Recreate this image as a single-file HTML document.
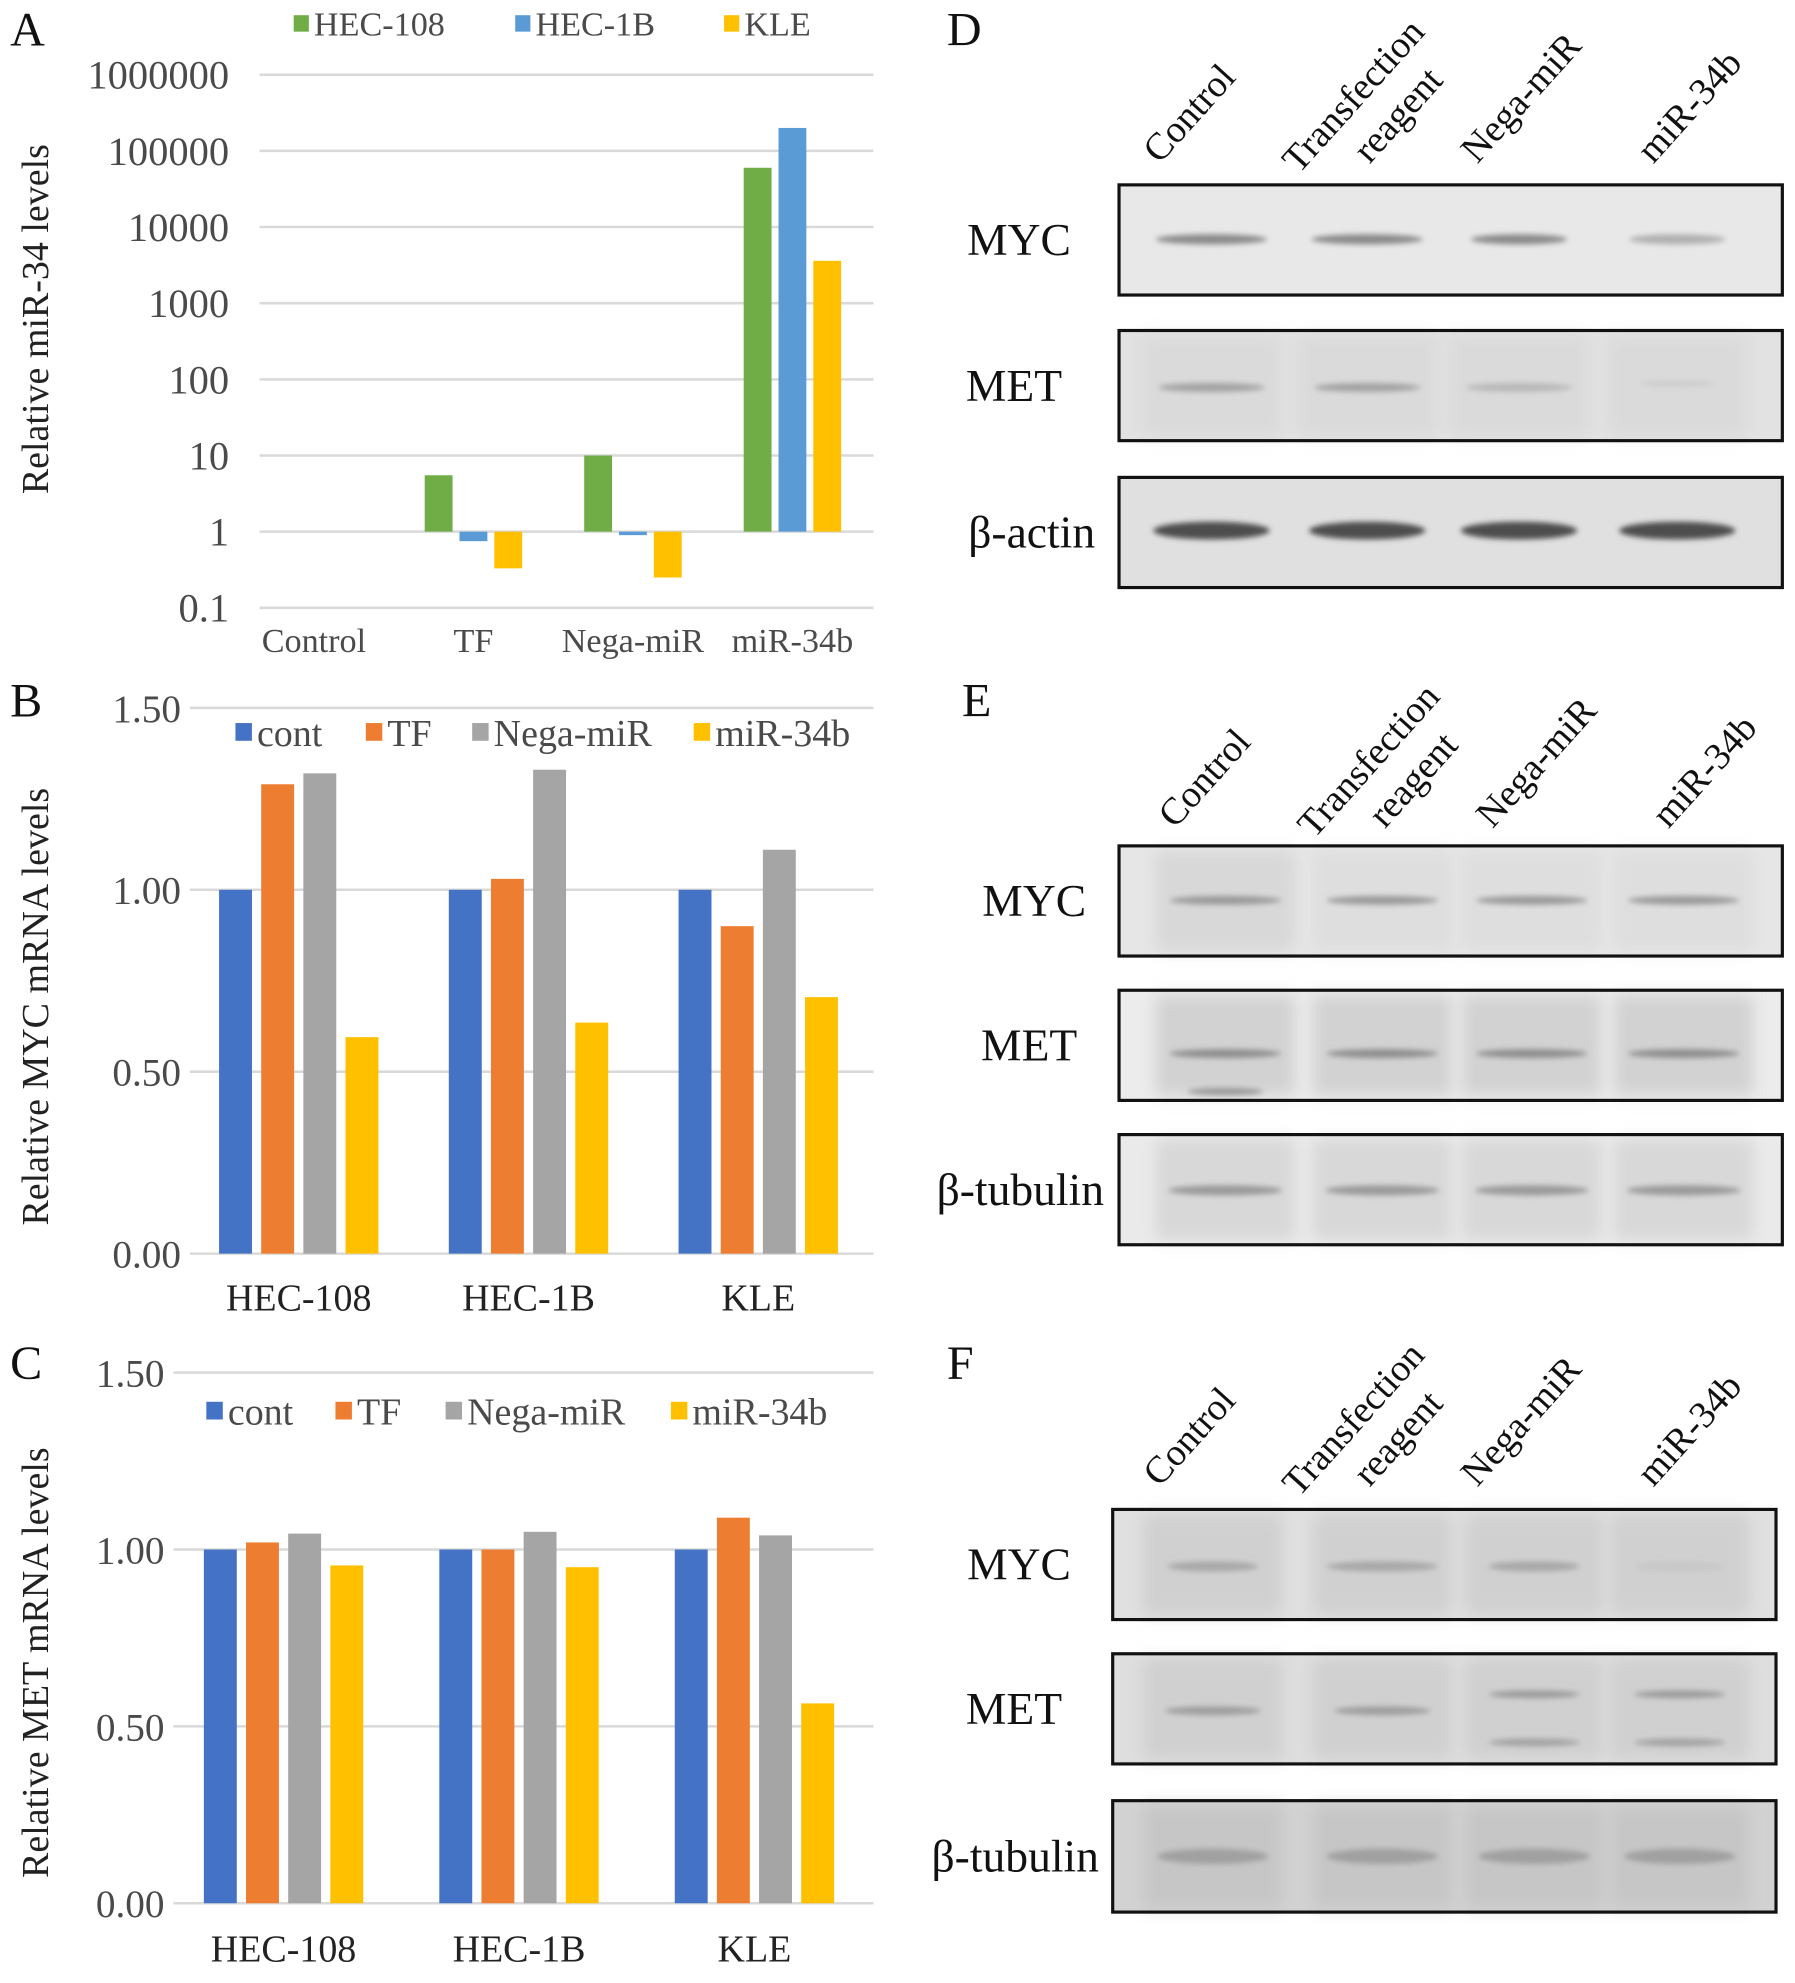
<!DOCTYPE html>
<html><head><meta charset="utf-8">
<style>
html,body{margin:0;padding:0;background:#fff;}
svg{display:block;}
text{font-family:"Liberation Serif",serif;}
</style></head>
<body>
<svg id="fig" width="1795" height="1983" viewBox="0 0 1418 1566" preserveAspectRatio="none" xmlns="http://www.w3.org/2000/svg">
<defs>
<filter id="blur2" x="-20%" y="-100%" width="140%" height="300%"><feGaussianBlur stdDeviation="2.2"/></filter>
<filter id="blur6" x="-20%" y="-50%" width="140%" height="200%"><feGaussianBlur stdDeviation="6"/></filter>
</defs>
<g id="panelA"></g>
<g id="panelB"></g>
<g id="panelC"></g>
<g id="blots"></g>
</svg>
<script>
// ---- Panel A data ----
const aCategories = ["Control","TF","Nega-miR","miR-34b"];
const aSeriesNames = ["HEC-108","HEC-1B","KLE"];
const aHEC108 = [1, 5.5, 10, 60000];
const aHEC1B = [1, 0.75, 0.9, 200000];
const aKLE = [1, 0.33, 0.25, 3600];
const aTicks = ["0.1","1","10","100","1000","10000","100000","1000000"];
// ---- Panel B data ----
const bCategories = ["HEC-108","HEC-1B","KLE"];
const bSeriesNames = ["cont","TF","Nega-miR","miR-34b"];
const bCont = [1, 1, 1];
const bTF = [1.29, 1.03, 0.9];
const bNega = [1.32, 1.33, 1.11];
const bMiR = [0.595, 0.635, 0.705];
const bTicks = ["0.00","0.50","1.00","1.50"];
// ---- Panel C data ----
const cCategories = ["HEC-108","HEC-1B","KLE"];
const cCont = [1, 1, 1];
const cTF = [1.02, 1.0, 1.09];
const cNega = [1.045, 1.05, 1.04];
const cMiR = [0.955, 0.95, 0.565];
const cTicks = ["0.00","0.50","1.00","1.50"];

const NS="http://www.w3.org/2000/svg";
function mk(parent,tag,attrs,txt){const e=document.createElementNS(NS,tag);for(const k in attrs)e.setAttribute(k,attrs[k]);if(txt!==undefined)e.textContent=txt;parent.appendChild(e);return e;}

const GREEN="#70ad47",BLUE="#5b9bd5",YELLOW="#ffc000",DBLUE="#4472c4",ORANGE="#ed7d31",GRAY="#a5a5a5";
const TXT="#4a4a4a";

// ===== Panel A =====
(function(){
  const g=document.getElementById('panelA');
  const x0=205,x1=690,yTop=59,yBot=480;
  const y=v=>yBot-(Math.log10(v)+1)*(yBot-yTop)/7;
  const xC=i=>248+i*126;
  aTicks.forEach(t=>{
    const yy=y(parseFloat(t));
    const l=mk(g,'line',{x1:x0,x2:x1,y1:yy,y2:yy,stroke:'#d9d9d9','stroke-width':2});
    
    
    const tx=mk(g,'text',{x:181,y:yy+11,'text-anchor':'end','font-size':32,fill:TXT},t);
    
    
  });
  aCategories.forEach((c,i)=>{
    const tx=mk(g,'text',{x:xC(i),y:515,'text-anchor':'middle','font-size':27,fill:TXT},c);
    
    
  });
  const series=[aHEC108,aHEC1B,aKLE],cols=[GREEN,BLUE,YELLOW];
  series.forEach((s,j)=>{
    s.forEach((v,i)=>{
      const cx=xC(i)+(j-1)*27.5;
      const y0=y(1),yv=y(v);
      const r=mk(g,'rect',{x:cx-11,y:Math.min(y0,yv),width:22,height:Math.max(0.01,Math.abs(y0-yv)),fill:cols[j]});
      
      
    });
  });
  const lx=[232,407,572];
  aSeriesNames.forEach((n,j)=>{
    const le=mk(g,'g',{});
    
    
    mk(le,'rect',{x:lx[j],y:12,width:12,height:13,fill:cols[j]});
    mk(le,'text',{x:lx[j]+16,y:28,'font-size':27,fill:TXT},n);
  });
  const t=mk(g,'text',{x:0,y:0,'font-size':30,'text-anchor':'middle',fill:'#222',transform:'translate(38,252) rotate(-90)'},'Relative miR-34 levels');
  
  
})();

// ===== Panels B & C =====
function barPanel(id,series,cats,ticks,o){
  const g=document.getElementById(id);
  const y=v=>o.y0-v*(o.y0-o.y15)/1.5;
  ticks.forEach(t=>{
    const yy=y(parseFloat(t));
    const l=mk(g,'line',{x1:o.gx0,x2:690,y1:yy,y2:yy,stroke:'#d9d9d9','stroke-width':2});
    
    
    const tx=mk(g,'text',{x:o.gx0-7,y:yy+11,'text-anchor':'end','font-size':31,fill:TXT},t);
    
    
  });
  const cols=[DBLUE,ORANGE,GRAY,YELLOW];
  cats.forEach((c,i)=>{
    const xc=o.c0+i*o.step;
    const tx=mk(g,'text',{x:xc,y:o.labY,'text-anchor':'middle','font-size':30,fill:'#222'},c);
    
    
    series.forEach((s,j)=>{
      const bx=xc+(j-1.5)*33.3-13;
      const r=mk(g,'rect',{x:bx,y:y(s[i]),width:26,height:o.y0-y(s[i]),fill:cols[j]});
      
      
    });
  });
  bSeriesNames.forEach((n,j)=>{
    const le=mk(g,'g',{});
    
    
    mk(le,'rect',{x:o.lx[j],y:o.ly-9,width:13,height:14,fill:cols[j]});
    mk(le,'text',{x:o.lx[j]+17,y:o.ly+9,'font-size':30,fill:TXT},n);
  });
  const t=mk(g,'text',{x:0,y:0,'font-size':30,'text-anchor':'middle',fill:'#222',transform:'translate('+38+','+o.titleY+') rotate(-90)'},o.title);
  
  
}
barPanel('panelB',[bCont,bTF,bNega,bMiR],bCategories,bTicks,{y0:990,y15:559,gx0:150,c0:236,step:181.5,labY:1035,lx:[186,289,373,548],ly:580,title:'Relative MYC mRNA levels',titleY:795});
barPanel('panelC',[cCont,cTF,cNega,cMiR],cCategories,cTicks,{y0:1503,y15:1084,gx0:137,c0:224,step:186,labY:1549,lx:[163,265,352,530],ly:1116,title:'Relative MET mRNA levels',titleY:1313});

// panel letters
[['A',8,36],['B',8,566],['C',8,1089],['D',748,36],['E',760,566],['F',748,1089]].forEach(p=>{
  const t=mk(document.getElementById('fig'),'text',{x:p[1],y:p[2],'font-size':38,fill:'#111'},p[0]);
  
  
});

// ===== Western blots =====
const blotRoot=document.getElementById('blots');
function headers(bx,by){
  const g=mk(blotRoot,'g',{});
  
  
  const items=[['Control',bx+32,by],['Transfection',bx+142,by+8],['reagent',bx+198,by],['Nega-miR',bx+283,by],['miR-34b',bx+422,by]];
  items.forEach(it=>mk(g,'text',{x:0,y:0,'font-size':30,fill:'#111',transform:'translate('+it[1]+','+it[2]+') rotate(-48)'},it[0]));
}
function blot(name,x,y,w,h,bg,lanes,label,labX){
  const g=mk(blotRoot,'g',{});
  
  
  mk(g,'rect',{x:x,y:y,width:w,height:h,fill:bg});
  lanes.forEach(l=>{
    if(l.lane) mk(g,'rect',{x:l.cx-55,y:y+4,width:110,height:h-8,fill:l.lane,filter:'url(#blur6)'});
    (l.bands||[]).forEach(b=>mk(g,'ellipse',{cx:l.cx,cy:y+b[0],rx:b[1],ry:b[2],fill:b[3],filter:'url(#blur2)'}));
  });
  mk(g,'rect',{x:x,y:y,width:w,height:h,fill:'none',stroke:'#111','stroke-width':2.5});
  mk(g,'text',{x:labX,y:y+h/2+12,'text-anchor':'middle','font-size':36,fill:'#111'},label);
}
const C4=[957,1080,1200,1325];
headers(884,130);
blot('blot-d-myc',884,146,524,87,'#e8e8e8',C4.map((c,i)=>({cx:c,bands:[[43,i<2?44:38,4,i<3?'#8a8a8a':'#b0b0b0']]})),'MYC',805);
blot('blot-d-met',884,261,524,87,'#e2e2e2',C4.map((c,i)=>({cx:c,lane:'#dadada',bands:i<3?[[45,42,3.5,i<2?'#a2a2a2':'#b8b8b8']]:[[42,30,2,'#cacaca']]})),'MET',801);
blot('blot-d-actin',884,377,524,87,'#e0e0e0',C4.map((c,i)=>({cx:c,bands:[[42,46,7,'#4d4d4d']]})),'\u03b2-actin',815);

headers(896,655);
const C5=[968,1092,1210,1330];
blot('blot-e-myc',884,668,524,87,'#e6e6e6',C5.map((c,i)=>({cx:c,lane:i==0?'#d8d8d8':'#dedede',bands:[[43,44,3.5,'#9a9a9a']]})),'MYC',817);
blot('blot-e-met',884,782,524,87,'#ececec',C5.map((c,i)=>({cx:c,lane:'#d2d2d2',bands:[[50,44,3.5,'#8e8e8e']].concat(i==0?[[80,30,3,'#9a9a9a']]:[])})),'MET',813);
blot('blot-e-tub',884,896,524,87,'#eaeaea',C5.map((c,i)=>({cx:c,lane:'#d8d8d8',bands:[[44,45,4,'#9a9a9a']]})),'\u03b2-tubulin',806);

headers(884,1175);
const C6=[958,1092,1212,1327];
blot('blot-f-myc',879,1192,524,87,'#e0e0e0',C6.map((c,i)=>({cx:c,lane:'#d0d0d0',bands:[[45,i==1?44:36,4,i==3?'#c8c8c8':'#a8a8a8']]})),'MYC',805);
blot('blot-f-met',879,1306,524,87,'#dedede',C6.map((c,i)=>({cx:c,lane:'#d0d0d0',bands:i<2?[[45,38,3.5,'#9e9e9e']]:[[32,36,3,'#9a9a9a'],[70,36,3,'#a2a2a2']]})),'MET',801);
blot('blot-f-tub',879,1422,524,88,'#d2d2d2',C6.map((c,i)=>({cx:c,lane:'#c6c6c6',bands:[[44,44,6,'#a0a0a0']]})),'\u03b2-tubulin',802);
</script>
</body></html>
